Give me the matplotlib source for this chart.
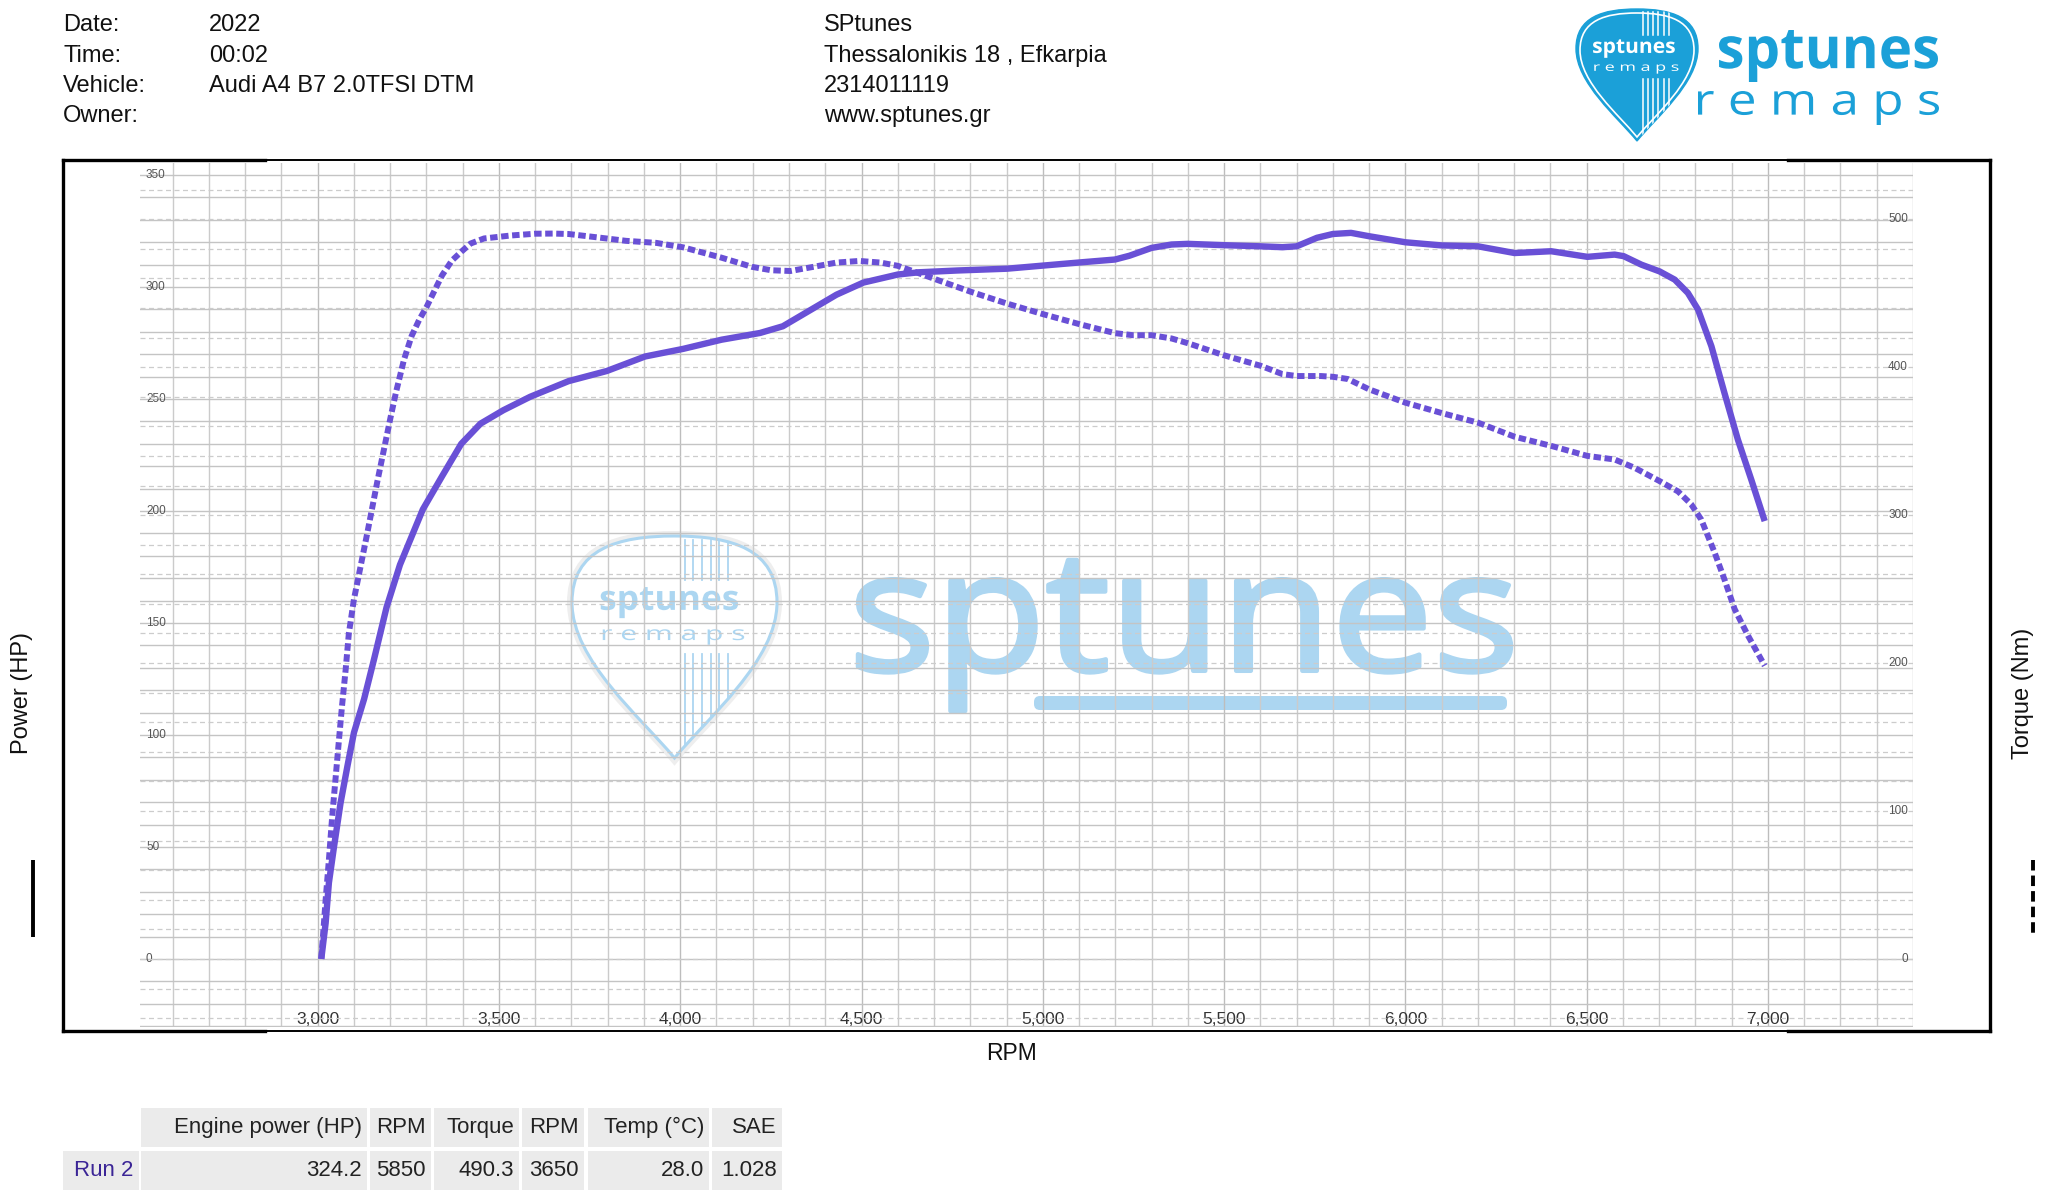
import matplotlib
matplotlib.use("Agg")
import matplotlib.pyplot as plt
from matplotlib.path import Path
from matplotlib.patches import PathPatch, Rectangle, FancyBboxPatch
from matplotlib.textpath import TextPath
from matplotlib.font_manager import FontProperties
from matplotlib.transforms import Affine2D, blended_transform_factory
from matplotlib.lines import Line2D

# ---------------- data ----------------
rpm_power = [3010, 3022, 3031, 3045, 3063, 3082, 3100, 3128,
             3155, 3190, 3227, 3290, 3343, 3396, 3449, 3512,
             3586, 3692, 3797, 3903, 4008, 4114, 4220, 4283,
             4346, 4431, 4505, 4600, 4658, 4764, 4901, 5001,
             5102, 5199, 5239, 5300, 5355, 5400, 5500, 5600,
             5661, 5700, 5756, 5800, 5850, 5900, 6000, 6100,
             6200, 6301, 6402, 6502, 6577, 6602, 6651, 6701,
             6743, 6779, 6807, 6844, 6880, 6917, 6954, 6991]
power_hp = [0, 16, 34, 50, 69.5, 86, 101, 116,
            133.5, 157, 176, 200.7, 215.5, 230, 239, 245,
            251, 258, 262.5, 269, 272.4, 276.5, 279.5, 282.5,
            288.5, 296.6, 302, 305.6, 306.6, 307.4, 308.2, 309.6,
            311, 312.3, 314, 317.5, 319, 319.3, 318.7, 318.2,
            317.8, 318.2, 322, 323.7, 324.2, 322.7, 320, 318.6,
            318.2, 315.2, 316, 313.5, 314.5, 313.8, 310, 307,
            303.3, 297.4, 290, 273.6, 252.7, 231.9, 214, 195.5]

rpm_torque = [3010, 3022, 3031, 3040, 3049, 3058, 3067, 3077,
              3086, 3100, 3137, 3164, 3185, 3201, 3216, 3238,
              3259, 3280, 3301, 3322, 3343, 3370, 3396, 3422,
              3459, 3533, 3600, 3650, 3692, 3776, 3850, 3934,
              4008, 4114, 4198, 4251, 4304, 4367, 4431, 4494,
              4552, 4600, 4658, 4711, 4801, 4901, 5001, 5102,
              5199, 5249, 5300, 5355, 5400, 5500, 5600, 5661,
              5700, 5767, 5800, 5841, 5900, 6000, 6100, 6200,
              6301, 6402, 6502, 6577, 6632, 6701, 6752, 6788,
              6816, 6853, 6880, 6908, 6945, 6991]
torque_nm = [0, 40, 67, 96, 121, 146, 170.5, 195,
             220, 243, 288, 322, 347, 366, 383, 405,
             421, 432, 441, 451.6, 462, 472, 478, 483.6,
             487, 489, 490.2, 490.3, 490, 487.6, 485.4, 484,
             481, 474, 467.8, 465.5, 465, 467.8, 470.7, 471.8,
             470.7, 468.5, 463.5, 458.8, 451, 443, 435.8, 429,
             423, 421.6, 421.6, 419.4, 416.2, 408, 401, 395.3,
             394, 394, 393.5, 392, 385, 376, 369, 362.5,
             353, 346.8, 340, 337.6, 332, 323, 316, 307.4,
             297, 274.6, 256.5, 236.5, 218.5, 198.2]

rpm_ticks = [3000, 3500, 4000, 4500, 5000, 5500, 6000, 6500, 7000]
hp_ticks = [0, 50, 100, 150, 200, 250, 300, 350]
nm_ticks = [0, 100, 200, 300, 400, 500]

header_labels = ["Date:", "Time:", "Vehicle:", "Owner:"]
header_values = ["2022", "00:02", "Audi A4 B7 2.0TFSI DTM", ""]
company_lines = ["SPtunes", "Thessalonikis 18 , Efkarpia", "2314011119", "www.sptunes.gr"]

table_columns = ["Engine power (HP)", "RPM", "Torque", "RPM", "Temp (\u00b0C)", "SAE"]
table_run = "Run 2"
table_values = ["324.2", "5850", "490.3", "3650", "28.0", "1.028"]

# ---------------- styles ----------------
CURVE = "#6950d6"
LOGO = "#1ba0d8"
WMARK = "#acd6f1"
FONT = "Liberation Sans"
W, H = 2048, 1190

fig = plt.figure(figsize=(W / 100, H / 100), dpi=100, facecolor="white")

# overlay axes in pixel coordinates (y downward)
ov = fig.add_axes([0, 0, 1, 1])
ov.set_xlim(0, W)
ov.set_ylim(H, 0)
ov.axis("off")
ov.set_zorder(0)

gx0, gx1, gy0, gy1 = 140, 1913, 163, 1027
ax = fig.add_axes([gx0 / W, 1 - gy1 / H, (gx1 - gx0) / W, (gy1 - gy0) / H])
ax.set_zorder(1)
ax.patch.set_visible(False)
ax2 = ax.twinx()
ax2.set_zorder(2)
ax2.patch.set_visible(False)

# grid
for r in range(2600, 7401, 100):
    ax.axvline(r, color="#bdbdbd" if r % 500 == 0 else "#cbcbcb", lw=1.0, zorder=1)
for h in range(-30, 351, 10):
    ax.axhline(h, color="#c4c4c4", lw=1.0, zorder=1)
for t in range(-40, 521, 20):
    ax2.axhline(t, color="#cccccc", lw=0.9, ls=(0, (4, 2.8)), zorder=1)

# curves (power drawn in top axes using the HP scale)
ax2.plot(rpm_power, power_hp, transform=ax.transData, color=CURVE, lw=4.6,
         solid_capstyle="butt", solid_joinstyle="round", zorder=3,
         scalex=False, scaley=False)
ax2.plot(rpm_torque, torque_nm, color=CURVE, lw=4.3, ls=(0, (1.25, 0.6)),
         dash_capstyle="butt", zorder=3)

ax.set_xlim(2510, 7400)
ax.set_ylim(-30.4, 355.4)
ax2.set_ylim(-46, 538)
ax.set_axis_off()
ax2.set_axis_off()

# tick labels drawn inside the grid
trL = blended_transform_factory(ax.transAxes, ax.transData)
for v in hp_ticks:
    ax.text(6 / (gx1 - gx0), v, str(v), transform=trL, ha="left", va="center",
            fontsize=8.5, color="#555555", family=FONT, zorder=4)
trR = blended_transform_factory(ax2.transAxes, ax2.transData)
for v in nm_ticks:
    ax2.text(1 - 5 / (gx1 - gx0), v, str(v), transform=trR, ha="right", va="center",
             fontsize=8.5, color="#555555", family=FONT, zorder=4)
trX = blended_transform_factory(ax.transData, ax.transAxes)
for r in rpm_ticks:
    ax.text(r, 8 / (gy1 - gy0), f"{r:,}", transform=trX, ha="center", va="center",
            fontsize=12.5, color="#333333", family=FONT, zorder=4)


# ---------------- helpers ----------------
def fit_text(axx, s, x0, x1, y0, y1, prop, color, alpha=1.0, z=2, stroke=0):
    tp = TextPath((0, 0), s, size=100, prop=prop)
    ext = tp.get_extents()
    sx = (x1 - x0) / ext.width
    sy = (y1 - y0) / ext.height
    tr = Affine2D().translate(-ext.x0, -ext.y0).scale(sx, -sy).translate(x0, y1)
    axx.add_patch(PathPatch(tr.transform_path(tp), facecolor=color,
                            edgecolor=color if stroke else "none", lw=stroke,
                            joinstyle="round", alpha=alpha, zorder=z))


def pick_path(x0, y0, w, h):
    uv = [(0.5, 1.0), (0.34, 0.82), (0.0, 0.56), (0.0, 0.30),
          (0.0, 0.06), (0.22, 0.0), (0.5, 0.0),
          (0.78, 0.0), (1.0, 0.06), (1.0, 0.30),
          (1.0, 0.56), (0.66, 0.82), (0.5, 1.0), (0.5, 1.0)]
    codes = [Path.MOVETO] + [Path.CURVE4] * 12 + [Path.CLOSEPOLY]
    return Path([(x0 + u * w, y0 + v * h) for u, v in uv], codes)


def draw_pick(axx, x0, y0, w, h, face, edge, elw, stripe, slw, txt, z,
              inner=None, glow=None):
    if glow is not None:
        axx.add_patch(PathPatch(pick_path(x0, y0, w, h), facecolor="none",
                                edgecolor=glow, lw=elw + 5, zorder=z - 0.2))
    patch = PathPatch(pick_path(x0, y0, w, h), facecolor=face, edgecolor=edge,
                      lw=elw, zorder=z)
    axx.add_patch(patch)
    if inner is not None:
        axx.add_patch(PathPatch(pick_path(x0 + 4, y0 + 4, w - 8, h - 8), facecolor="none",
                                edgecolor=inner, lw=1.2, zorder=z + 0.1))
    for i in range(6):
        u = 0.55 + i * 0.042
        for v0, v1 in ((0.02, 0.20), (0.53, 1.0)):
            ln = Line2D([x0 + u * w] * 2, [y0 + v0 * h, y0 + v1 * h], color=stripe,
                        lw=slw, zorder=z + 0.2)
            axx.add_line(ln)
            ln.set_clip_path(patch)
    bold = FontProperties(family="Open Sans", weight="bold")
    reg = FontProperties(family="Open Sans")
    fit_text(axx, "sptunes", x0 + 0.14 * w, x0 + 0.81 * w, y0 + 0.23 * h, y0 + 0.37 * h,
             bold, txt, z=z + 0.3)
    fit_text(axx, "r e m a p s", x0 + 0.15 * w, x0 + 0.84 * w, y0 + 0.42 * h, y0 + 0.49 * h,
             reg, txt, z=z + 0.3)


# ---------------- watermark ----------------
draw_pick(ov, 572, 536, 205, 222, "white", WMARK, 2.2, WMARK, 1.3, WMARK, 1,
          glow="#eeeeee")
fit_text(ov, "sptunes", 858, 1511, 560, 711,
         FontProperties(family="Open Sans"), WMARK, z=1, stroke=3.2)
ov.add_patch(FancyBboxPatch((1034, 696), 473, 14, boxstyle="round,pad=0,rounding_size=6",
                            facecolor=WMARK, edgecolor="none", zorder=1))

# ---------------- top-right logo ----------------
draw_pick(ov, 1576, 9, 122, 132, LOGO, LOGO, 1.0, "white", 1.1, "white", 3, inner="white")
fit_text(ov, "sptunes", 1719, 1938, 30, 82,
         FontProperties(family="Open Sans", weight="bold"), LOGO, z=3)
fit_text(ov, "r e m a p s", 1698, 1939, 91, 125, FontProperties(family="Open Sans"),
         LOGO, z=3)

# ---------------- header ----------------
baselines = [31, 62, 92, 122]
for lab, val, comp, yb in zip(header_labels, header_values, company_lines, baselines):
    ov.text(63, yb, lab, ha="left", va="baseline", fontsize=17, family=FONT, color="#111111")
    ov.text(209, yb, val, ha="left", va="baseline", fontsize=17, family=FONT, color="#111111")
    ov.text(824, yb, comp, ha="left", va="baseline", fontsize=17, family=FONT, color="#111111")

# ---------------- frame ----------------
ov.add_patch(Rectangle((63, 160), 1927, 871, fill=False, ec="black", lw=1.4, zorder=5))
for xs, ys in (([63, 265], [160, 160]), ([63, 265], [1031, 1031]),
               ([1788, 1990], [160, 160]), ([1788, 1990], [1031, 1031]),
               ([63, 63], [160, 1031]), ([1990, 1990], [160, 1031])):
    ov.plot(xs, ys, color="black", lw=2.4, solid_capstyle="projecting", zorder=5)

# axis titles and legend marks
ov.text(22, 693, "Power (HP)", rotation=90, ha="center", va="center", fontsize=17,
        family=FONT, color="#111111")
ov.text(2023, 693, "Torque (Nm)", rotation=90, ha="center", va="center", fontsize=17,
        family=FONT, color="#111111")
ov.text(1012, 1053, "RPM", ha="center", va="center", fontsize=16.5, family=FONT,
        color="#111111")
ov.plot([33, 33], [860, 937], color="black", lw=2.8, solid_capstyle="butt")
ov.plot([2033, 2033], [860, 937], color="black", lw=2.8, ls=(0, (2.7, 1.3)),
        dash_capstyle="butt")

# ---------------- table ----------------
col_x = [(141, 367), (370, 431), (434, 519), (522, 584), (588, 709), (712, 782)]
row_head = (1108, 1147)
row_data = (1151, 1190)
CELL = "#ebebeb"
for (x0, x1), name, val in zip(col_x, table_columns, table_values):
    ov.add_patch(Rectangle((x0, row_head[0]), x1 - x0, row_head[1] - row_head[0],
                           facecolor=CELL, edgecolor="none", zorder=2))
    ov.add_patch(Rectangle((x0, row_data[0]), x1 - x0, row_data[1] - row_data[0],
                           facecolor=CELL, edgecolor="none", zorder=2))
    ov.text(x1 - 5, sum(row_head) / 2, name, ha="right", va="center", fontsize=16,
            family=FONT, color="#222222", zorder=3)
    ov.text(x1 - 5, sum(row_data) / 2, val, ha="right", va="center", fontsize=16,
            family=FONT, color="#222222", zorder=3)
ov.add_patch(Rectangle((63, row_data[0]), 76, row_data[1] - row_data[0],
                       facecolor=CELL, edgecolor="none", zorder=2))
ov.text(74, sum(row_data) / 2, table_run, ha="left", va="center", fontsize=16,
        family=FONT, color="#3b2596", zorder=3)

fig.savefig("out.png", dpi=100, facecolor="white")
